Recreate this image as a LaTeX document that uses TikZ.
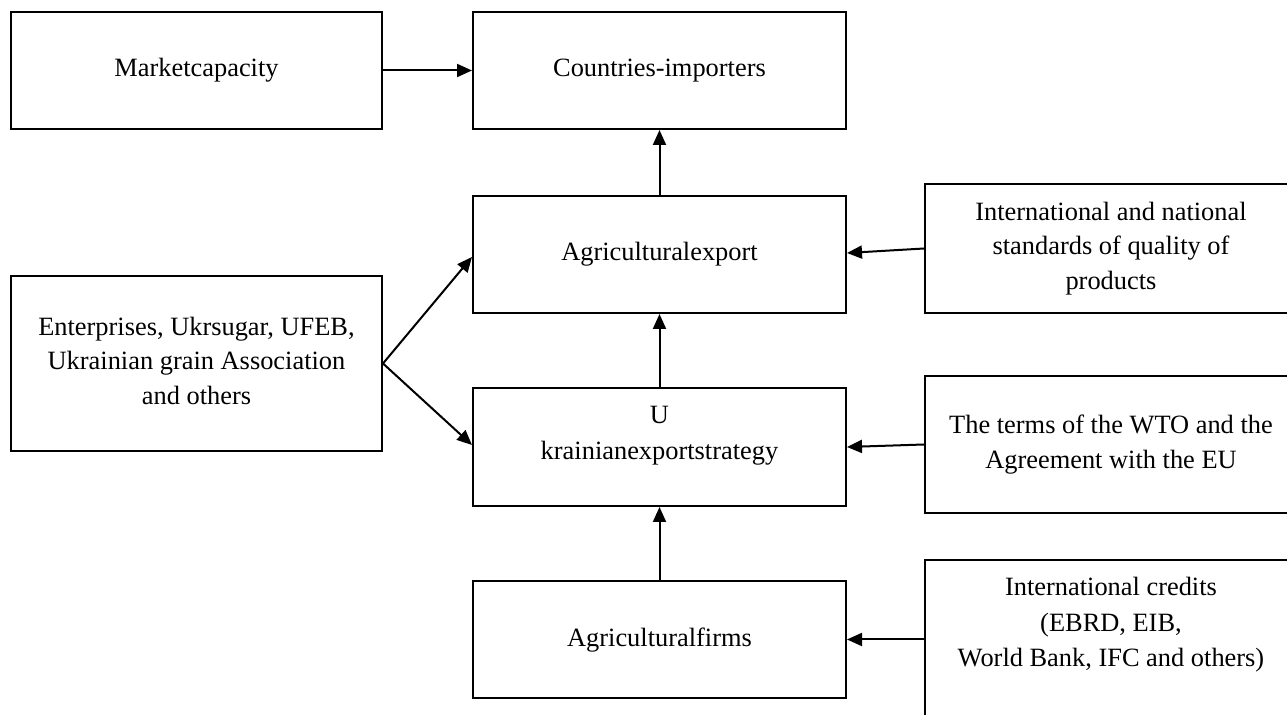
\documentclass[tikz,border=0pt]{standalone}
\usepackage{fontspec}
\setmainfont{Liberation Serif}
\usetikzlibrary{arrows.meta,calc}
\begin{document}
\begin{tikzpicture}[x=0.5pt,y=-0.5pt,
  box/.style={draw, line width=1pt, inner sep=0pt, align=center,
    font=\fontsize{13.2}{17.3}\selectfont, text depth=0.6ex},
  lbl/.style={inner sep=0pt, align=center, font=\fontsize{13.2}{17.8}\selectfont},
  arr/.style={line width=1pt, -{Triangle[length=7.5pt,width=6.5pt]}}]
\clip (0,0) rectangle (1287,715);
\fill[white] (0,0) rectangle (1287,715);
% boxes
\node[box, minimum width=185.5pt, minimum height=58.5pt] (mc) at (196.5,70.5) {Marketcapacity};
\node[box, minimum width=186.5pt, minimum height=58.5pt] (ci) at (659.5,70.5) {Countries-importers};
\node[box, minimum width=186.5pt, minimum height=58.5pt] (ae) at (659.5,254.5) {Agriculturalexport};
\node[box, minimum width=186pt, minimum height=64.5pt] (st) at (1111,248.5) {International and national\\standards of quality of\\products};
\node[box, minimum width=185.5pt, minimum height=87.5pt] (en) at (196.5,363.5) {Enterprises, Ukrsugar, UFEB,\\Ukrainian grain Association\\and others};
\node[box, minimum width=186.5pt, minimum height=59pt] (us) at (659.5,447) {};
\node[lbl] (uslbl) at (659.5,436) {U\\krainianexportstrategy};
\node[box, minimum width=186pt, minimum height=68.5pt] (wto) at (1111,444.5) {The terms of the WTO and the\\Agreement with the EU};
\node[box, minimum width=186.5pt, minimum height=58.5pt] (af) at (659.5,639.5) {Agriculturalfirms};
\node[box, minimum width=186pt, minimum height=100pt] (cr) at (1111,660) {};
\node[lbl] (crlbl) at (1111,625) {International credits\\(EBRD, EIB,\\World Bank, IFC and others)};
% connectors
\coordinate (apex) at (en.east);
\draw[arr] (mc.east) -- (ci.west);
\draw[arr] (ae.north) -- (ci.south);
\draw[arr] (us.north) -- (ae.south);
\draw[arr] (af.north) -- (us.south);
\draw[arr] (apex) -- ($(ae.west)+(0,2.5)$);
\draw[arr] (apex) -- ($(us.west)+(0,-2)$);
\draw[arr] (st.west) -- ($(ae.east)+(0,-1.5)$);
\draw[arr] (wto.west) -- (us.east);
\draw[arr] (cr.west |- af.east) -- (af.east);
\end{tikzpicture}
\end{document}
